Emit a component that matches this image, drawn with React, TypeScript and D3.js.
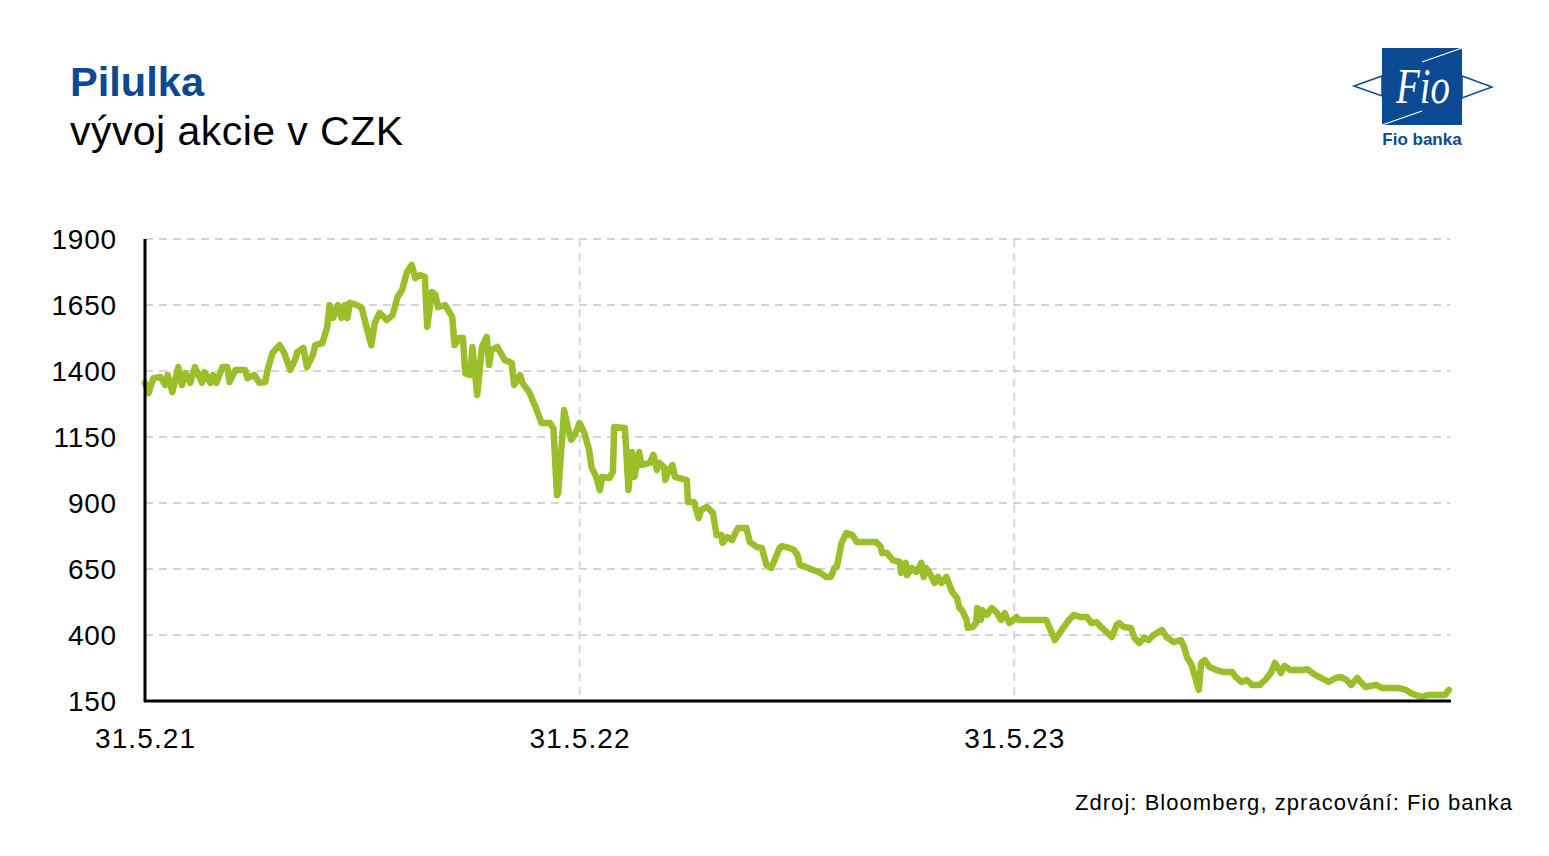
import React from "react";
import * as d3 from "d3";

// Days since 31.5.2021 and closing price in CZK
const dayOffsets = [
  0, 3, 7, 13, 17, 19, 23, 28, 31, 34, 38, 42, 48, 50, 55, 57, 60, 65, 69, 71, 76, 84, 86, 92, 96, 101, 103, 107, 113, 117,
  122, 126, 128, 133, 136, 141, 143, 149, 153, 155, 158, 162, 165, 168, 170, 172, 178, 182, 186, 190, 193, 197, 203, 208,
  212, 216, 220, 224, 227, 231, 235, 237, 241, 244, 246, 252, 258, 260, 264, 267, 269, 273, 275, 279, 283, 287, 289, 291,
  296, 302, 308, 310, 315, 317, 323, 329, 333, 340, 343, 346, 347, 352, 355, 358, 361, 365, 369, 373, 375, 379, 382, 384,
  390, 393, 394, 403, 404, 406, 409, 411, 415, 417, 424, 427, 430, 432, 436, 437, 439, 443, 445, 455, 456, 461, 465, 467,
  472, 477, 480, 484, 485, 489, 493, 498, 505, 508, 514, 518, 522, 526, 533, 535, 541, 545, 548, 550, 555, 561, 566, 572,
  576, 579, 581, 585, 589, 594, 598, 614, 618, 619, 623, 628, 634, 635, 639, 640, 644, 648, 652, 654, 656, 660, 663, 666,
  669, 673, 675, 678, 682, 684, 686, 690, 691, 695, 698, 699, 702, 703, 707, 711, 715, 719, 722, 726, 732, 734, 757, 764,
  770, 776, 780, 786, 791, 795, 799, 803, 812, 816, 818, 822, 828, 831, 835, 839, 843, 847, 854, 858, 864, 870, 873, 875,
  879, 881, 885, 887, 890, 894, 900, 905, 913, 916, 921, 925, 930, 936, 941, 946, 949, 954, 957, 962, 972, 976, 983, 988,
  994, 1000, 1004, 1009, 1013, 1018, 1025, 1034, 1039, 1053, 1059, 1063, 1072, 1078, 1092, 1095,
];
const prices = [
  1355, 1317, 1373, 1377, 1347, 1385, 1320, 1415, 1347, 1392, 1355, 1415, 1355, 1396, 1355, 1385, 1355, 1415, 1415, 1358,
  1404, 1404, 1373, 1385, 1355, 1358, 1404, 1468, 1498, 1468, 1404, 1442, 1472, 1487, 1415, 1461, 1498, 1506, 1567, 1650,
  1601, 1650, 1601, 1650, 1601, 1658, 1650, 1639, 1567, 1498, 1582, 1620, 1593, 1612, 1680, 1707, 1775, 1802, 1752, 1764,
  1756, 1567, 1699, 1688, 1642, 1650, 1605, 1498, 1525, 1525, 1392, 1385, 1491, 1309, 1491, 1529, 1423, 1480, 1491, 1442,
  1430, 1347, 1385, 1355, 1317, 1252, 1203, 1203, 1184, 930, 938, 1252, 1188, 1139, 1158, 1203, 1165, 1101, 1036, 999, 949,
  999, 995, 1018, 1188, 1184, 1112, 949, 1093, 999, 1093, 1044, 1052, 1082, 1025, 1052, 1036, 987, 1014, 1044, 999, 987,
  904, 904, 843, 873, 885, 862, 779, 779, 749, 771, 760, 805, 805, 752, 733, 730, 665, 654, 730, 737, 730, 722, 703, 665,
  658, 646, 639, 620, 620, 654, 658, 749, 786, 779, 752, 752, 733, 711, 711, 684, 677, 635, 673, 627, 654, 639, 673, 620,
  654, 627, 597, 620, 597, 620, 597, 563, 540, 502, 495, 457, 427, 430, 445, 502, 457, 495, 476, 502, 487, 457, 483, 445,
  468, 457, 457, 381, 419, 457, 476, 468, 468, 445, 449, 430, 392, 438, 445, 430, 427, 389, 370, 389, 381, 400, 419, 392,
  373, 381, 351, 317, 286, 256, 192, 294, 305, 279, 267, 260, 260, 241, 222, 230, 211, 211, 230, 260, 294, 256, 283, 267,
  267, 271, 248, 237, 222, 237, 241, 230, 211, 237, 203, 211, 199, 199, 192, 180, 165, 173, 173, 192,
];
const yTicks = [150, 400, 650, 900, 1150, 1400, 1650, 1900];
const xTickDates = ["2021-05-31", "2022-05-31", "2023-05-31"];
const xTickLabels = ["31.5.21", "31.5.22", "31.5.23"];

const W = 1549;
const H = 856;
const BLUE = "#0b4a93";
const GREEN = "#9bbf2a";

export default function App() {
  const start = new Date(2021, 4, 31);
  const parse = d3.timeParse("%Y-%m-%d");
  const data = dayOffsets.map((d, i) => ({ date: d3.timeDay.offset(start, d), v: prices[i] }));

  const x = d3
    .scaleTime()
    .domain([start, new Date(2024, 4, 31)])
    .range([145, 1450]);
  const y = d3.scaleLinear().domain([150, 1900]).range([701, 239]);

  const line = d3
    .line<{ date: Date; v: number }>()
    .x((d) => x(d.date))
    .y((d) => y(d.v))
    .curve(d3.curveLinear);

  const font = "'Liberation Sans', Arial, sans-serif";
  const xTicks = xTickDates.map((s) => parse(s) as Date);

  return (
    <svg
      width={W}
      height={H}
      style={{ position: "absolute", left: 0, top: 0, background: "#fff" }}
      fontFamily={font}
    >
      <rect x={0} y={0} width={W} height={H} fill="#fff" />
      {/* Titles */}
      <text x={70} y={96} fontSize={41} fontWeight="bold" fill={BLUE} textLength={134} lengthAdjust="spacingAndGlyphs">
        Pilulka
      </text>
      <text x={70} y={145} fontSize={41} fill="#000" textLength={333} lengthAdjust="spacing">
        vývoj akcie v CZK
      </text>

      {/* Logo */}
      <g>
        <rect x={1382} y={48} width={80} height={77} fill={BLUE} />
        <polygon points="1382,76 1354,86 1382,96" fill="#fff" stroke={BLUE} strokeWidth={1.5} />
        <polygon points="1462,76 1492,87 1462,98" fill="#fff" stroke={BLUE} strokeWidth={1.5} />
        <line x1={1422} y1={62} x2={1462} y2={48} stroke="#fff" strokeWidth={1.3} />
        <line x1={1382} y1={125} x2={1422} y2={111} stroke="#fff" strokeWidth={1.3} />
        <text
          x={1423}
          y={103}
          fontSize={50}
          fontStyle="italic"
          fontFamily="'Liberation Serif', 'Times New Roman', serif"
          fill="#fff"
          textAnchor="middle"
          textLength={54}
          lengthAdjust="spacingAndGlyphs"
        >
          Fio
        </text>
        <text x={1422} y={145} fontSize={17} fontWeight="bold" fill={BLUE} textAnchor="middle">
          Fio banka
        </text>
      </g>

      {/* Gridlines */}
      {yTicks.slice(1).map((t) => (
        <line
          key={"gy" + t}
          x1={145}
          x2={1450}
          y1={y(t)}
          y2={y(t)}
          stroke="#d6d6d6"
          strokeWidth={2}
          strokeDasharray="8,6"
        />
      ))}
      {xTicks.slice(1).map((t, i) => (
        <line
          key={"gx" + i}
          x1={x(t)}
          x2={x(t)}
          y1={239}
          y2={701}
          stroke="#d6d6d6"
          strokeWidth={2}
          strokeDasharray="8,6"
        />
      ))}

      {/* Series */}
      <path
        d={line(data) || ""}
        fill="none"
        stroke={GREEN}
        strokeWidth={6.5}
        strokeLinejoin="round"
        strokeLinecap="round"
      />

      {/* Axes */}
      <line x1={145} x2={145} y1={239} y2={702} stroke="#000" strokeWidth={3} />
      <line x1={144} x2={1451} y1={701} y2={701} stroke="#000" strokeWidth={3} />

      {yTicks.map((t) => (
        <text key={"ty" + t} x={117} y={y(t) + 10} fontSize={28} textAnchor="end" fill="#000" letterSpacing={0.8}>
          {t}
        </text>
      ))}
      {xTicks.map((t, i) => (
        <text
          key={"tx" + i}
          x={x(t)}
          y={748}
          fontSize={28}
          textAnchor="middle"
          fill="#000"
          textLength={100}
          lengthAdjust="spacing"
        >
          {xTickLabels[i]}
        </text>
      ))}

      <text x={1512} y={810} fontSize={22} textAnchor="end" fill="#000" textLength={437} lengthAdjust="spacing">
        Zdroj: Bloomberg, zpracování: Fio banka
      </text>
    </svg>
  );
}
